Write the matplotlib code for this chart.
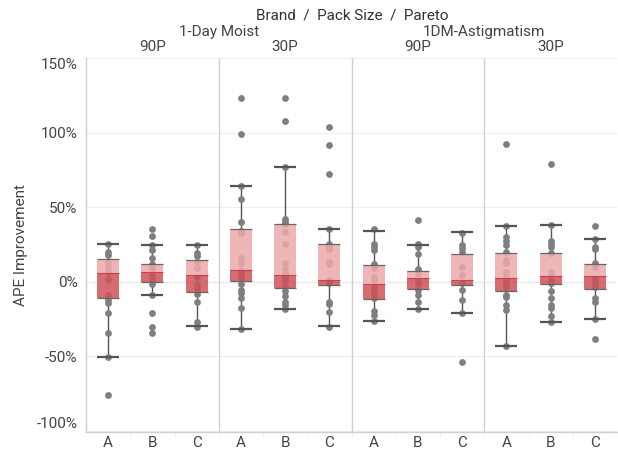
import numpy as np
import matplotlib
matplotlib.use("Agg")
import matplotlib.pyplot as plt

plt.rcParams['font.family'] = ['Roboto', 'DejaVu Sans']

# facet headers and categories
brands = ['1-Day Moist', '1DM-Astigmatism']
pack_sizes = ['90P', '30P']
paretos = ['A', 'B', 'C']

# box statistics per (brand, pack, pareto) (fractions)
whisker_hi = [0.253, 0.248, 0.248, 0.642, 0.770, 0.356,
              0.342, 0.246, 0.336, 0.374, 0.383, 0.289]
q3 = [0.154, 0.119, 0.143, 0.352, 0.385, 0.255,
      0.110, 0.070, 0.184, 0.195, 0.191, 0.117]
median = [0.058, 0.063, 0.045, 0.076, 0.045, 0.009,
          -0.015, 0.023, 0.009, 0.025, 0.038, 0.038]
q1 = [-0.112, -0.002, -0.069, 0.003, -0.042, -0.024,
      -0.116, -0.051, -0.024, -0.065, -0.015, -0.051]
whisker_lo = [-0.508, -0.087, -0.297, -0.315, -0.181, -0.297,
              -0.264, -0.181, -0.210, -0.432, -0.270, -0.250]

# individual APE improvement values
points = [
    [0.253, 0.197, 0.179, 0.134, 0.101, 0.067, 0.016, -0.089, -0.123,
     -0.141, -0.208, -0.346, -0.508, -0.761],
    [0.354, 0.307, 0.248, 0.213, 0.161, 0.119, 0.090, 0.045, 0.016,
     -0.015, -0.087, -0.208, -0.302, -0.342],
    [0.248, 0.195, 0.172, 0.134, 0.094, 0.034, -0.015, -0.044, -0.085,
     -0.134, -0.273, -0.302],
    [1.235, 0.991, 0.642, 0.553, 0.401, 0.342, 0.324, 0.157, 0.128, 0.076,
     0.056, 0.023, -0.015, -0.056, -0.078, -0.107, -0.179, -0.315],
    [1.235, 1.081, 0.770, 0.419, 0.403, 0.385, 0.336, 0.253, 0.128, 0.083,
     0.060, 0.034, 0.011, -0.029, -0.060, -0.096, -0.134, -0.156, -0.181],
    [1.040, 0.917, 0.721, 0.356, 0.255, 0.235, 0.217, 0.134, 0.117, 0.011,
     -0.011, -0.134, -0.150, -0.201, -0.302],
    [0.351, 0.253, 0.235, 0.213, 0.119, 0.090, 0.030, 0.011, -0.029,
     -0.056, -0.085, -0.112, -0.195, -0.226, -0.264],
    [0.416, 0.253, 0.231, 0.188, 0.083, 0.052, 0.007, -0.015, -0.056,
     -0.087, -0.134, -0.185],
    [0.329, 0.246, 0.224, 0.201, 0.101, 0.045, -0.007, -0.056, -0.123,
     -0.212, -0.539],
    [0.924, 0.374, 0.298, 0.275, 0.246, 0.199, 0.146, 0.128, 0.067, 0.052,
     0.016, -0.011, -0.038, -0.089, -0.101, -0.156, -0.190, -0.432],
    [0.790, 0.383, 0.275, 0.253, 0.235, 0.191, 0.067, 0.052, 0.011, -0.011,
     -0.062, -0.107, -0.156, -0.179, -0.230, -0.270],
    [0.374, 0.289, 0.235, 0.217, 0.128, 0.101, 0.016, -0.007, -0.034,
     -0.107, -0.134, -0.250, -0.385],
]

y_ticks = [1.5, 1.0, 0.5, 0.0, -0.5, -1.0]

text_col = '#444444'
light_box = '#EDA9AB'
dark_box = '#CF5257'
line_col = '#555555'
fs = 11

fig = plt.figure(figsize=(6.18, 4.53), dpi=100)
ax = fig.add_axes([86 / 618, 21 / 453, 531 / 618, 374 / 453])

n = len(points)
xpos = np.arange(n) + 0.5
bw = 0.5

for i in range(n):
    x = xpos[i]
    ax.scatter(np.full(len(points[i]), x), points[i], s=24, color='#7f7f7f',
               linewidths=0, zorder=2)
    # box halves
    ax.bar(x, q3[i] - median[i], bottom=median[i], width=bw, color=light_box,
           alpha=0.85, zorder=3, linewidth=0)
    ax.bar(x, median[i] - q1[i], bottom=q1[i], width=bw, color=dark_box,
           alpha=0.85, zorder=3, linewidth=0)
    ax.hlines([q1[i], q3[i]], x - bw / 2, x + bw / 2, color='#666666',
              linewidth=0.9, zorder=4)
    ax.hlines(median[i], x - bw / 2, x + bw / 2, color='#C2454B',
              linewidth=0.8, zorder=4)
    # whiskers
    ax.vlines(x, q3[i], whisker_hi[i], color=line_col, linewidth=1.0, zorder=1)
    ax.vlines(x, whisker_lo[i], q1[i], color=line_col, linewidth=1.0, zorder=1)
    ax.hlines([whisker_lo[i], whisker_hi[i]], x - bw / 2, x + bw / 2,
              color=line_col, linewidth=1.6, zorder=4)

ax.set_xlim(0, n)
ax.set_ylim(-1.009, 1.501)

# grid
for t in y_ticks:
    if t == 0:
        ax.axhline(0, color='#d8d8d8', linewidth=1.0, linestyle=(0, (1, 1)),
                   zorder=0)
    else:
        ax.axhline(t, color='#f0f0f0', linewidth=1.0, zorder=0)
for b in [3, 6, 9]:
    ax.axvline(b, color='#d0d0d0', linewidth=1.0, zorder=0)

for s in ['top', 'right']:
    ax.spines[s].set_visible(False)
for s in ['left', 'bottom']:
    ax.spines[s].set_color('#d0d0d0')
    ax.spines[s].set_linewidth(1.0)

ax.set_yticks(y_ticks)
ax.set_yticklabels(['{:.0f}%'.format(t * 100) for t in y_ticks])
ax.tick_params(axis='y', length=0, pad=6, labelsize=fs, labelcolor=text_col)
labels = ax.get_yticklabels()
labels[0].set_verticalalignment('top')
labels[-1].set_verticalalignment('bottom')

ax.set_xticks(xpos)
ax.set_xticklabels(paretos * 4)
ax.tick_params(axis='x', length=0, pad=3, labelsize=fs, labelcolor=text_col)
ax.set_xticks(np.arange(1, n), minor=True)
ax.tick_params(axis='x', which='minor', length=3, color='#e6e6e6')

ax.set_ylabel('APE Improvement', fontsize=fs, color=text_col, labelpad=6)

# facet headers
fig.text(352 / 618, 1 - 15 / 453, 'Brand  /  Pack Size  /  Pareto',
         ha='center', va='center', fontsize=fs, color='#333333')
for j, brand in enumerate(brands):
    ax.text(3 + 6 * j, 1.0 + 26 / 374, brand, transform=ax.get_xaxis_transform(),
            ha='center', va='center', fontsize=fs, color=text_col)
    for k, pack in enumerate(pack_sizes):
        ax.text(1.5 + 6 * j + 3 * k, 1.0 + 11 / 374, pack,
                transform=ax.get_xaxis_transform(), ha='center', va='center',
                fontsize=fs, color=text_col)

fig.savefig('out.png', dpi=100)
